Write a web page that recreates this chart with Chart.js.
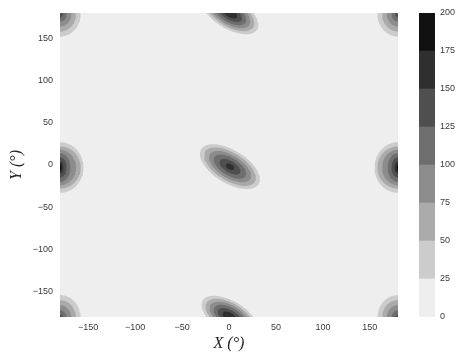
<!DOCTYPE html>
<html>
<head>
<meta charset="utf-8">
<script src="https://cdn.jsdelivr.net/npm/chart.js@4"></script>
<style>
  html, body { margin: 0; padding: 0; background: #fff; }
  #wrap { position: relative; width: 458px; height: 356px; }
  #main-chart { position: absolute; left: 0; top: 0; }
  #bar-chart { position: absolute; left: 400px; top: 0; }
</style>
</head>
<body>
<div id="wrap">
  <canvas id="main-chart" width="458" height="356"></canvas>
  <canvas id="bar-chart" width="58" height="356"></canvas>
</div>
<script>
// contour levels, and the grey of the band above each bound
const levelBounds = [0, 25, 50, 75, 100, 125, 150, 175, 200];
const bandColors = ['#eeeeee', '#cccccc', '#aaaaaa', '#8c8c8c', '#6e6e6e', '#4f4f4f', '#2f2f2f', '#111111'];

const xTicks = [-150, -100, -50, 0, 50, 100, 150];
const yTicks = [-150, -100, -50, 0, 50, 100, 150];

// density peaks in degrees, the map wraps round at +-180
const peakX = [1, 180, 1, 180];
const peakY = [-2, -3, 180, 179];
const peakTilt = [-36, 90, -36, 90];
// semi axes of the contour lines at 25, 50, 75 ... for each peak
const majorAxes = [
  [37, 32, 26, 20, 13, 5],
  [30, 25, 21, 17, 12, 7, 3],
  [35, 30, 25, 20, 15, 9],
  [27, 21, 15, 9, 4]
];
const minorAxes = [
  [19, 16, 13, 10, 6.5, 3],
  [25, 22, 17, 11, 7, 3.5, 1.5],
  [18, 15.5, 13, 10.5, 7.5, 4.5],
  [22, 17, 12, 7, 3]
];

const tickColor = '#3a3a3a';
const tickFont = { family: 'Liberation Sans, Arial, sans-serif', size: 9 };
const titleFont = { family: 'Liberation Serif, serif', size: 16, style: 'italic' };
const minus = v => String(v).replace('-', '\u2212');

function ring(cx, cy, a, b, tilt) {
  const r = tilt * Math.PI / 180;
  const pts = [];
  for (let k = 0; k <= 72; k++) {
    const t = k / 72 * 2 * Math.PI;
    const u = a * Math.cos(t), v = b * Math.sin(t);
    pts.push({ x: cx + u * Math.cos(r) - v * Math.sin(r), y: cy + u * Math.sin(r) + v * Math.cos(r) });
  }
  return pts;
}

const datasets = [];
for (let lv = 0; lv < levelBounds.length - 2; lv++) {
  peakX.forEach((px, i) => {
    if (lv >= majorAxes[i].length) return;
    [-360, 0, 360].forEach(sx => {
      [-360, 0, 360].forEach(sy => {
        const cx = px + sx, cy = peakY[i] + sy;
        if (Math.abs(cx) > 240 || Math.abs(cy) > 240) return;
        datasets.push({
          data: ring(cx, cy, majorAxes[i][lv], minorAxes[i][lv], peakTilt[i]),
          showLine: true,
          fill: 'shape',
          backgroundColor: bandColors[lv + 1],
          borderColor: 'transparent',
          borderWidth: 0,
          pointRadius: 0,
          order: 20 - lv
        });
      });
    });
  });
}

// lowest band fills the whole plot
const plotBack = {
  id: 'plotBack',
  beforeDatasetsDraw(chart) {
    const { ctx, chartArea: a } = chart;
    ctx.save();
    ctx.fillStyle = bandColors[0];
    ctx.fillRect(a.left, a.top, a.right - a.left, a.bottom - a.top);
    ctx.restore();
  }
};

new Chart(document.getElementById('main-chart'), {
  type: 'scatter',
  data: { datasets: datasets },
  plugins: [plotBack],
  options: {
    responsive: false,
    animation: false,
    layout: { padding: { left: 0, right: 60, top: 13, bottom: 0 } },
    plugins: { legend: { display: false }, tooltip: { enabled: false } },
    scales: {
      x: {
        type: 'linear', min: -180, max: 180,
        grid: { display: false, drawTicks: false },
        border: { display: false },
        afterBuildTicks: s => { s.ticks = xTicks.map(v => ({ value: v })); },
        afterFit: s => { s.height = 39; },
        ticks: { padding: 5, color: tickColor, font: tickFont, maxRotation: 0, callback: minus },
        title: { display: true, text: 'X (°)', color: '#262626', font: titleFont, padding: { top: 0, bottom: 3 } }
      },
      y: {
        type: 'linear', min: -180, max: 180,
        grid: { display: false, drawTicks: false },
        border: { display: false },
        afterBuildTicks: s => { s.ticks = yTicks.map(v => ({ value: v })); },
        afterFit: s => { s.width = 60; },
        ticks: { padding: 7, color: tickColor, font: tickFont, callback: minus },
        title: { display: true, text: 'Y (°)', color: '#262626', font: titleFont, padding: { top: 7, bottom: 0 } }
      }
    }
  }
});

// colour bar
new Chart(document.getElementById('bar-chart'), {
  type: 'bar',
  data: {
    labels: [''],
    datasets: bandColors.map((c, i) => ({
      data: [levelBounds[i + 1] - levelBounds[i]],
      backgroundColor: c,
      borderWidth: 0,
      barPercentage: 1,
      categoryPercentage: 1
    }))
  },
  options: {
    responsive: false,
    animation: false,
    layout: { padding: { left: 19, right: 0, top: 13, bottom: 39 } },
    plugins: { legend: { display: false }, tooltip: { enabled: false } },
    scales: {
      x: { display: false, stacked: true },
      y: {
        stacked: true, position: 'right', min: 0, max: 200,
        grid: { display: false, drawTicks: false },
        border: { display: false },
        afterBuildTicks: s => { s.ticks = levelBounds.map(v => ({ value: v })); },
        afterFit: s => { s.width = 23; },
        ticks: { padding: 5, color: tickColor, font: tickFont }
      }
    }
  }
});
</script>
</body>
</html>
